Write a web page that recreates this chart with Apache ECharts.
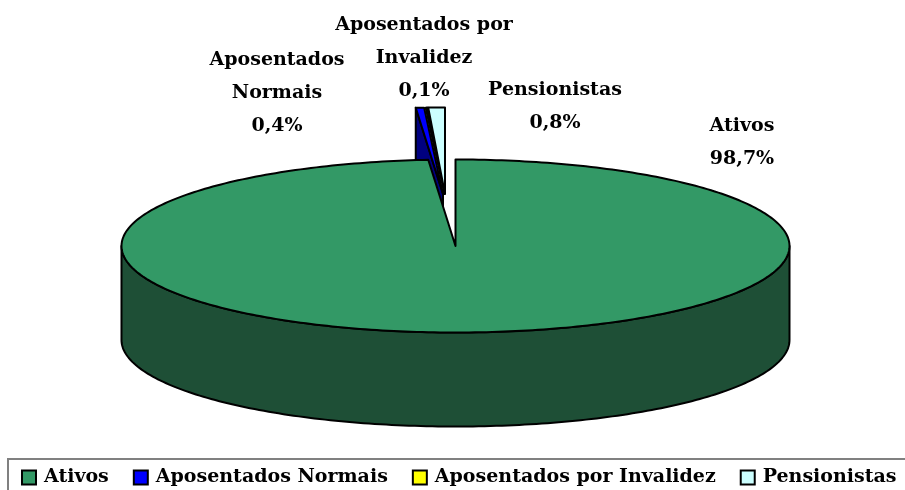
<!DOCTYPE html>
<html>
<head>
<meta charset="utf-8">
<style>
  html, body { margin: 0; padding: 0; background: #fff; overflow: hidden; }
  #chart { width: 905px; height: 490px; }
</style>
</head>
<body>
<div id="chart"></div>
<script src="https://cdn.jsdelivr.net/npm/echarts@6/dist/echarts.min.js"></script>
<script>
// dados
const categories = ['Ativos', 'Aposentados Normais', 'Aposentados por Invalidez', 'Pensionistas']
const values = [98.7, 0.4, 0.1, 0.8]
const labelLines = [['Ativos'], ['Aposentados', 'Normais'], ['Aposentados por', 'Invalidez'], ['Pensionistas']]

// cores
const topColors = ['#339966', '#0000ff', '#ffff00', '#ccffff']
const wallColors = ['#1e4f36', '#000080', '#808000', '#667f7f']

// layout da pizza 3D
const cx = 455.5
const cy = 246
const rx = 334
const ry = 86.5
const depth = 94
const explodeX = [0, -12.5, -11, -10.5]
const explodeY = [0, -52, -52, -52]
const showCutFace = [false, true, false, false]
const labelX = [742, 277, 424, 555]
const labelY = [126, 60, 25, 90]
const labelLineHeight = 33
const seriesZ = [5, 2, 3, 4]
const fontFamily = '"DejaVu Serif", serif'

const total = values.reduce((a, b) => a + b, 0)

const point = (ox, oy, deg) => {
  const a = deg * Math.PI / 180
  return [ox + rx * Math.sin(a), oy - ry * Math.cos(a)]
}

const arcPoints = (ox, oy, from, to) => {
  const pts = []
  const steps = Math.max(2, Math.ceil(Math.abs(to - from)))
  for (let i = 0; i <= steps; i++) pts.push(point(ox, oy, from + (to - from) * i / steps))
  return pts
}

const makeRenderItem = (index) => () => {
  const start = values.slice(0, index).reduce((a, b) => a + b, 0) / total * 360
  const end = start + values[index] / total * 360
  const ox = cx + explodeX[index]
  const oy = cy + explodeY[index]
  const outline = { stroke: '#000', lineWidth: 2, lineJoin: 'round' }
  const children = []

  // parede frontal
  const wallFrom = Math.max(start, 90)
  const wallTo = Math.min(end, 270)
  if (wallTo > wallFrom) {
    const upper = arcPoints(ox, oy, wallFrom, wallTo)
    const lower = upper.map(p => [p[0], p[1] + depth]).reverse()
    children.push({
      type: 'polygon',
      shape: { points: upper.concat(lower) },
      style: { fill: wallColors[index], ...outline }
    })
  }

  // face do corte
  if (showCutFace[index]) {
    const rim = point(ox, oy, start)
    children.push({
      type: 'polygon',
      shape: { points: [rim, [rim[0], rim[1] + depth], [ox, oy + depth], [ox, oy]] },
      style: { fill: wallColors[index], ...outline }
    })
  }

  // topo
  children.push({
    type: 'polygon',
    shape: { points: [[ox, oy]].concat(arcPoints(ox, oy, start, end)) },
    style: { fill: topColors[index], ...outline }
  })

  // rotulo
  const percent = values[index].toFixed(1).replace('.', ',') + '%'
  labelLines[index].concat(percent).forEach((line, i) => {
    children.push({
      type: 'text',
      z2: 50,
      style: {
        text: line,
        x: labelX[index],
        y: labelY[index] + i * labelLineHeight,
        align: 'center',
        verticalAlign: 'middle',
        font: 'bold 19px ' + fontFamily,
        fill: '#000'
      }
    })
  })

  return { type: 'group', children }
}

const chart = echarts.init(document.getElementById('chart'))
chart.setOption({
  backgroundColor: '#fff',
  animation: false,
  legend: {
    data: categories,
    left: 21,
    top: 468,
    icon: 'rect',
    itemWidth: 14,
    itemHeight: 14,
    itemGap: 24,
    padding: 0,
    selectedMode: false,
    itemStyle: { borderColor: '#000', borderWidth: 2 },
    textStyle: { fontFamily: fontFamily, fontWeight: 'bold', fontSize: 19, color: '#000', padding: [0, 0, 0, 3] }
  },
  graphic: [{
    type: 'rect',
    silent: true,
    shape: { x: 8, y: 459, width: 1000, height: 60 },
    style: { fill: 'none', stroke: '#808080', lineWidth: 2 }
  }],
  series: categories.map((name, i) => ({
    type: 'custom',
    name: name,
    coordinateSystem: 'none',
    z: seriesZ[i],
    itemStyle: { color: topColors[i] },
    data: [values[i]],
    renderItem: makeRenderItem(i)
  }))
})
</script>
</body>
</html>
